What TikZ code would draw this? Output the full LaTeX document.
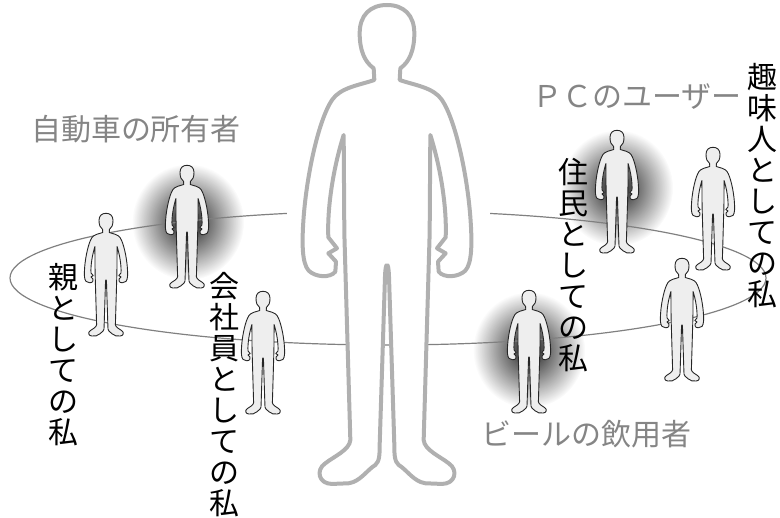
\documentclass[tikz,border=0pt]{standalone}
\usepackage{fontspec}
\newfontfamily\jpfont{Noto Sans CJK JP}
\usetikzlibrary{fadings}

\definecolor{labelgray}{HTML}{858585}
\definecolor{ringgray}{HTML}{808080}
\definecolor{outlinegray}{HTML}{B0B0B0}
\definecolor{bodyfill}{HTML}{EEEEEE}

\tikzfading[name=glow, inner color=transparent!0, outer color=transparent!100]

\begin{document}
\begin{tikzpicture}[x=1pt, y=-1pt,
  person/.pic={
    % standing silhouette, right half down to the crotch, then the left half back up
    \path[pic actions] (0,15)
      .. controls (50,15) and (82,45) .. (82,100)
      .. controls (82,150) and (68,185) .. (40,205)
      -- (38,240)
      .. controls (80,255) and (140,262) .. (165,300)
      .. controls (205,360) and (240,520) .. (250,650)
      .. controls (256,730) and (255,790) .. (235,812)
      .. controls (215,832) and (170,835) .. (155,815)
      -- (153,785) -- (176,760) -- (150,745) -- (176,712)
      .. controls (180,620) and (160,500) .. (130,405)
      -- (128,700) -- (110,1320)
      .. controls (112,1350) and (160,1370) .. (185,1390)
      .. controls (215,1410) and (205,1452) .. (165,1452)
      -- (115,1450)
      .. controls (80,1445) and (60,1410) .. (35,1395)
      .. controls (22,1385) and (22,1360) .. (22,1335)
      -- (6,830)
      .. controls (5,805) and (3,795) .. (0,795)
      .. controls (-3,795) and (-5,805) .. (-6,830)
      -- (-22,1335)
      .. controls (-22,1360) and (-22,1385) .. (-35,1395)
      .. controls (-60,1410) and (-80,1445) .. (-115,1450)
      -- (-165,1452)
      .. controls (-205,1452) and (-215,1410) .. (-185,1390)
      .. controls (-160,1370) and (-112,1350) .. (-110,1320)
      -- (-128,700) -- (-130,405)
      .. controls (-160,500) and (-180,620) .. (-176,712)
      -- (-150,745) -- (-176,760) -- (-153,785) -- (-155,815)
      .. controls (-170,835) and (-215,832) .. (-235,812)
      .. controls (-255,790) and (-256,730) .. (-250,650)
      .. controls (-240,520) and (-205,360) .. (-165,300)
      .. controls (-140,262) and (-80,255) .. (-38,240)
      -- (-40,205)
      .. controls (-68,185) and (-82,150) .. (-82,100)
      .. controls (-82,45) and (-50,15) .. (0,15)
      -- cycle;
  },
  bigman/.style={draw=outlinegray, line width=4pt, line join=round, fill=white},
  smallman/.style={draw=black!85, line width=0.9pt, line join=round, fill=bodyfill, scale=0.0854},
  role/.style={font=\jpfont\fontsize{30}{31}\selectfont, align=center, inner sep=0pt, anchor=north},
  group/.style={font=\jpfont\fontsize{30}{31}\selectfont, text=labelgray, inner sep=0pt},
  glowspot/.style={fill=black!90, path fading=glow}
]
\useasboundingbox (0,0) rectangle (780,518);

% soft shadows behind three of the small figures
\fill[glowspot] (188,222) ellipse [x radius=56, y radius=58];
\fill[glowspot] (617,188) ellipse [x radius=56, y radius=58];
\fill[glowspot] (529,350) ellipse [x radius=56, y radius=58];

% the ring, with its back part hidden
\draw[ringgray, line width=1.2pt] (388,278) ellipse [x radius=378, y radius=67];
\fill[white] (287,198) rectangle (490,226);

\pic[bigman, scale=0.3333] (me) at (387,0) {person};

\pic[smallman] (owner) at (187,164) {person};
\pic[smallman] (parent) at (106,212) {person};
\pic[smallman] (worker) at (263,290) {person};
\pic[smallman] (resident) at (617,129) {person};
\pic[smallman] (hobbyist) at (713,146) {person};
\pic[smallman] (user) at (682,257) {person};
\pic[smallman] (drinker) at (529,289) {person};

\node[group] (cars) at (136,129) {自動車の所有者};
\node[group] (pcs) at (637,97) {ＰＣのユーザー};
\node[group] (beer) at (586,434) {ビールの飲用者};

\node[role] (asparent) at (63,263) {親\\と\\し\\て\\の\\私};
\node[role] (asworker) at (224,272) {会\\社\\員\\と\\し\\て\\の\\私};
\node[role] (asresident) at (573,158) {住\\民\\と\\し\\て\\の\\私};
\node[role] (ashobby) at (762,63) {趣\\味\\人\\と\\し\\て\\の\\私};

\end{tikzpicture}
\end{document}
